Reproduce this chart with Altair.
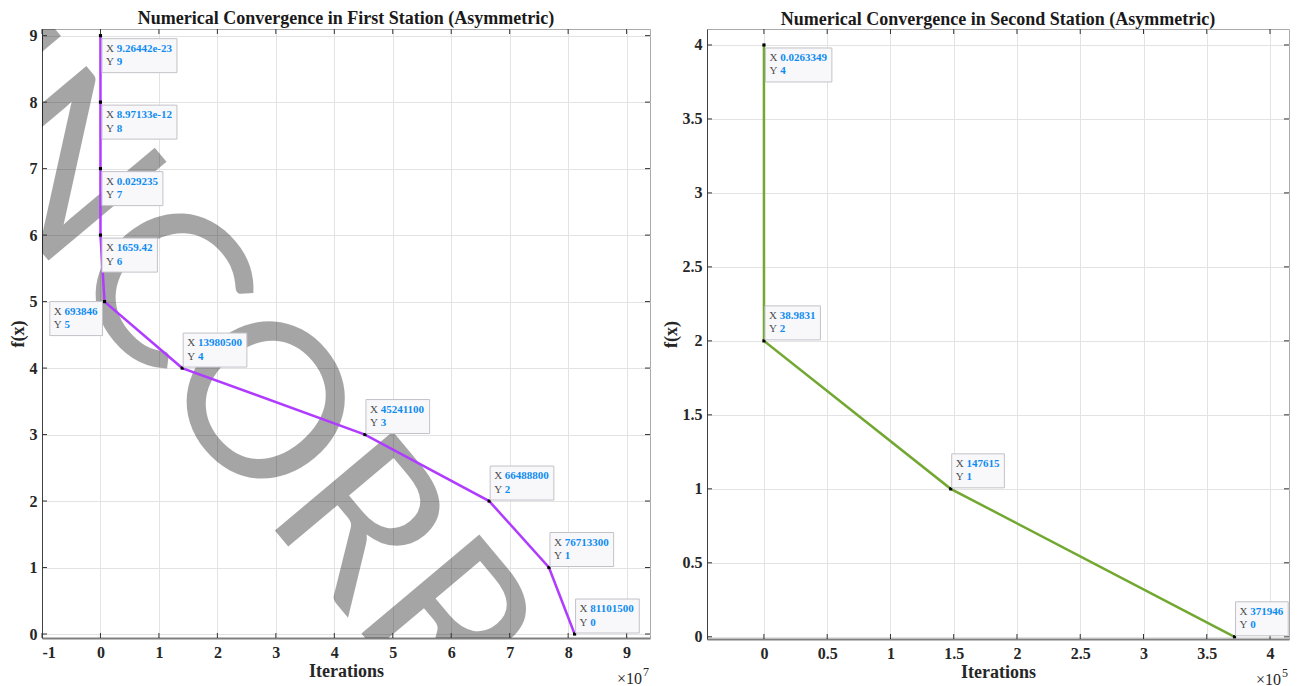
import altair as alt
import pandas as pd

# ---------------- data ----------------
# First station
s1_x = [81101500, 76713300, 66488800, 45241100, 13980500, 693846, 1659.42, 0.029235, 8.97133e-12, 9.26442e-23]
s1_y = [0, 1, 2, 3, 4, 5, 6, 7, 8, 9]
s1_xlabel = ["81101500", "76713300", "66488800", "45241100", "13980500", "693846",
             "1659.42", "0.029235", "8.97133e-12", "9.26442e-23"]
# Second station
s2_x = [371946, 147615, 38.9831, 0.0263349]
s2_y = [0, 1, 2, 4]
s2_xlabel = ["371946", "147615", "38.9831", "0.0263349"]

# axis ticks
x1_ticks = [-1, 0, 1, 2, 3, 4, 5, 6, 7, 8, 9]
y1_ticks = [0, 1, 2, 3, 4, 5, 6, 7, 8, 9]
x2_ticks = [0, 0.5, 1, 1.5, 2, 2.5, 3, 3.5, 4]
y2_ticks = [0, 0.5, 1, 1.5, 2, 2.5, 3, 3.5, 4]

titles = ["Numerical Convergence in First Station (Asymmetric)",
          "Numerical Convergence in Second Station (Asymmetric)"]

SERIF = "Liberation Serif"
TIP_BLUE = "#0f8cf0"
TIP_GRAY = "#4d4d4d"
TIP_FS = 11


def text_w(s, size):
    w = {".": 0.25, "-": 0.333, "e": 0.444}
    return sum(w.get(c, 0.5) for c in s) * size


def tip_layers(base, X, Y, xl, yv, side):
    lab_w = 0.972 * TIP_FS
    w = 4 + lab_w + text_w(xl, TIP_FS) + 5
    h = 34
    if side == "br":
        bx, by = 1.5, 3
    elif side == "ar":
        bx, by = 1, -35
    else:
        bx, by = -2 - w, 0
    sel = base.transform_filter(f"datum.y == {yv}")
    layers = [sel.mark_rect(fill="#f8f8fb", stroke="#c2c2c8", strokeWidth=1,
                            xOffset=bx, x2Offset=bx + w, yOffset=by, y2Offset=by + h)
              .encode(x=X, x2="xs:Q", y=Y, y2="y:Q")]
    tx = bx + 4
    for dy, lab, val in [(by + 10, "X", alt.Text("xl:N")),
                         (by + 23.5, "Y", alt.Text("y:Q", format="d"))]:
        layers.append(sel.mark_text(align="left", baseline="middle", dx=tx, dy=dy, font=SERIF,
                                    fontSize=TIP_FS, color=TIP_GRAY)
                      .encode(x=X, y=Y, text=alt.value(lab)))
        layers.append(sel.mark_text(align="left", baseline="middle", dx=tx + lab_w, dy=dy, font=SERIF,
                                    fontSize=TIP_FS, fontWeight="bold", color=TIP_BLUE)
                      .encode(x=X, y=Y, text=val))
    return layers


def panel(xs, ys, xlabels, div, exp, xdom, ydom, xticks, yticks, W, H, color, title,
          side_fn, watermark=False):
    df = pd.DataFrame({"x": xs, "y": ys, "xl": xlabels})
    base = alt.Chart(df).transform_calculate(xs=f"datum.x / {div}")
    X = alt.X("xs:Q", scale=alt.Scale(domain=xdom, nice=False, zero=False),
              axis=alt.Axis(values=xticks, title="Iterations", labelExpr="'' + datum.value"))
    Y = alt.Y("y:Q", scale=alt.Scale(domain=ydom, nice=False, zero=False),
              axis=alt.Axis(values=yticks, title="f(x)", labelExpr="'' + datum.value"))

    layers = []
    if watermark:
        layers.append(alt.Chart(pd.DataFrame({"w": [0]})).mark_text(
            text="INCORRECT", angle=50, fontSize=215, font="Lato", align="left",
            baseline="alphabetic", color="black", opacity=0.35, clip=True)
            .encode(x=alt.value(-125), y=alt.value(75)))

    xt = alt.Chart(pd.DataFrame({"xs": xticks}))
    yt = alt.Chart(pd.DataFrame({"y": yticks}))
    tick_style = dict(color="#333333", strokeWidth=1)
    layers += [
        xt.mark_rule(**tick_style).encode(x=X, y=alt.value(H), y2=alt.value(H - 5)),
        xt.mark_rule(**tick_style).encode(x=X, y=alt.value(0), y2=alt.value(5)),
        yt.mark_rule(**tick_style).encode(y=Y, x=alt.value(0), x2=alt.value(5)),
        yt.mark_rule(**tick_style).encode(y=Y, x=alt.value(W - 5), x2=alt.value(W)),
    ]
    layers.append(base.mark_line(color=color, strokeWidth=2.5).encode(x=X, y=Y, order="y:Q"))
    layers.append(base.mark_square(size=10, color="black", opacity=1).encode(x=X, y=Y))
    for xl, yv in zip(xlabels, ys):
        layers += tip_layers(base, X, Y, xl, yv, side_fn(yv))

    one = alt.Chart(pd.DataFrame({"w": [0]}))
    layers.append(one.mark_text(align="right", baseline="alphabetic", font=SERIF, fontSize=16,
                                color="#262626")
                  .encode(x=alt.value(W - 8), y=alt.value(H + 46), text=alt.value("×10")))
    layers.append(one.mark_text(align="left", baseline="alphabetic", font=SERIF, fontSize=12,
                                color="#262626")
                  .encode(x=alt.value(W - 7), y=alt.value(H + 38), text=alt.value(exp)))

    return alt.layer(*layers).properties(
        width=W, height=H,
        title=alt.TitleParams(title, font=SERIF, fontSize=18, fontWeight="bold",
                              color="#1a1a1a", offset=0))


def side1(y):
    if y >= 6:
        return "br"
    if y == 5:
        return "bl"
    return "ar"


def side2(y):
    return "br" if y == 4 else "ar"


left = panel(s1_x, s1_y, s1_xlabel, 1e7, "7", [-1, 9.4], [-0.06, 9.1], x1_ticks, y1_ticks,
             608, 609, "#b03cff", titles[0], side1, watermark=True)
right = panel(s2_x, s2_y, s2_xlabel, 1e5, "5", [-0.45, 4.15], [-0.015, 4.108], x2_ticks, y2_ticks,
              582, 610, "#72a832", titles[1], side2)

chart = alt.hconcat(left, right, spacing=10).properties(
    padding={"left": 0, "top": 1, "right": 0, "bottom": 0}
).configure_view(
    stroke="#aaaaaa", strokeWidth=1
).configure_axis(
    labelFont=SERIF, labelFontWeight="bold", labelFontSize=16, labelColor="#262626",
    titleFont=SERIF, titleFontWeight="bold", titleFontSize=18, titleColor="#262626",
    gridColor="#e3e3e3", gridWidth=1, ticks=False, domainColor="#808080", labelPadding=5
).configure_axisX(
    domainWidth=2, labelPadding=6, titlePadding=2
).configure_axisY(
    domainColor="#404040", domainWidth=1, titlePadding=2
)

chart.save("out.html", embed_options={"renderer": "svg", "actions": False})
